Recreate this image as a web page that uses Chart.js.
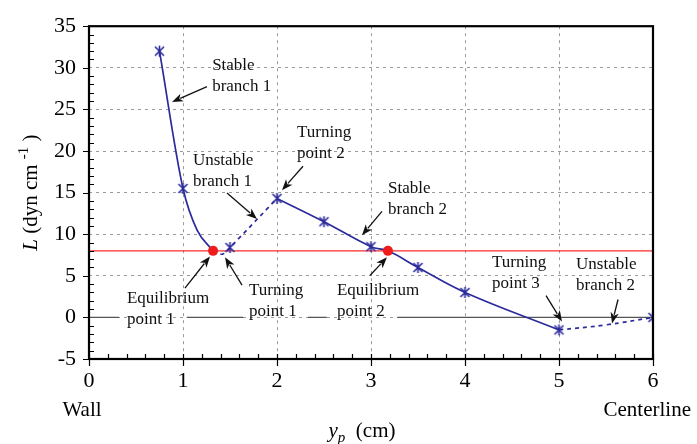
<!DOCTYPE html>
<html><head><meta charset="utf-8">
<script src="https://cdn.jsdelivr.net/npm/chart.js@4/dist/chart.umd.min.js"></script>
<style>html,body{margin:0;padding:0;background:#fff}#wrap{width:697px;height:444px;position:relative}</style>
</head><body><div id="wrap"><canvas id="c"></canvas></div>
<script>
// ---- data ----
const xTickValues = [0, 1, 2, 3, 4, 5, 6];
const yTickValues = [-5, 0, 5, 10, 15, 20, 25, 30, 35];
const markerX = [0.75, 1.0, 1.5, 2.0, 2.5, 3.0, 3.5, 4.0, 5.0, 6.0];
const markerY = [32.0, 15.5, 8.4, 14.3, 11.5, 8.5, 6.0, 3.0, -1.5, 0.0];
const stable1X = [0.75, 1.0, 1.15, 1.32];
const stable1Y = [32.0, 15.5, 10.5, 8.0];
const unstable1X = [1.32, 1.42, 1.5, 2.0];
const unstable1Y = [8.0, 7.6, 8.4, 14.3];
const stable2X = [2.0, 2.5, 3.0, 3.18, 3.5, 4.0, 5.0];
const stable2Y = [14.3, 11.5, 8.5, 8.0, 6.0, 3.0, -1.5];
const unstable2X = [5.0, 5.5, 6.0];
const unstable2Y = [-1.5, -0.9, 0.0];
const equilibriumX = [1.32, 3.18];
const equilibriumY = [8.0, 8.0];
const referenceLevel = 8;
const zeroLineX = [0, 0.32, null, 1.04, 1.64, null, 2.33, 2.53, null, 3.28, 6];
const xSideLabels = ['Wall', 'Centerline'];
const annotationLines = [
  ['Stable', 'branch 1'], ['Unstable', 'branch 1'], ['Turning', 'point 2'],
  ['Stable', 'branch 2'], ['Equilibrium', 'point 1'], ['Turning', 'point 1'],
  ['Equilibrium', 'point 2'], ['Turning', 'point 3'], ['Unstable', 'branch 2']
];
// text anchor (left x, first-line centre y) and arrow tail -> head, in data units
const annotationAnchor = [
  [1.31, 30.27], [1.106, 18.86], [2.213, 22.2], [3.181, 15.52], [0.404, 2.26],
  [1.702, 3.18], [2.638, 3.18], [4.287, 6.64], [5.181, 6.41]
];
const annotationArrow = [
  [1.255, 27.74, 0.883, 25.9], [1.468, 14.94, 1.787, 11.83], [2.277, 18.17, 2.053, 15.29],
  [3.117, 12.75, 2.904, 9.87], [1.021, 3.53, 1.287, 7.33], [1.628, 3.88, 1.447, 7.22],
  [2.989, 5.03, 3.17, 7.22], [4.862, 2.61, 5.032, -0.5], [5.628, 2.15, 5.564, -0.73]
];

const pts = (xs, ys) => xs.map((x, i) => ({x: x, y: ys[i]}));
const BLUE = '#2b2b9c';
const SERIF = '"Liberation Serif", "DejaVu Serif", serif';

// asterisk marker
const star = document.createElement('canvas');
star.width = 13; star.height = 13;
(function(){
  const g = star.getContext('2d');
  g.strokeStyle = BLUE; g.lineWidth = 1.6; g.lineCap = 'butt';
  g.beginPath();
  g.moveTo(2, 2); g.lineTo(11, 11);
  g.moveTo(11, 2); g.lineTo(2, 11);
  g.moveTo(6.5, 1); g.lineTo(6.5, 12);
  g.stroke();
})();

const zeroData = zeroLineX.map(x => x === null ? {x: NaN, y: null} : {x: x, y: 0});

const decor = {
  id: 'decor',
  afterDraw(chart) {
    const ctx = chart.ctx, a = chart.chartArea;
    const xs = chart.scales.x, ys = chart.scales.y;
    ctx.save();
    ctx.strokeStyle = '#000'; ctx.lineWidth = 1.2;
    ctx.beginPath();
    // y ticks
    for (let v = ys.min; v <= ys.max; v += 1) {
      const py = Math.round(ys.getPixelForValue(v)) + 0.5;
      if (v % 5 === 0) { ctx.moveTo(a.left - 6, py); ctx.lineTo(a.left, py); }
      else { ctx.moveTo(a.left, py); ctx.lineTo(a.left + 5, py); }
    }
    // x ticks
    for (let k = 0; k <= 30; k++) {
      const v = k / 5;
      const px = Math.round(xs.getPixelForValue(v)) + 0.5;
      if (k % 5 === 0) { ctx.moveTo(px, a.bottom - 5); ctx.lineTo(px, a.bottom + 7); }
      else { ctx.moveTo(px, a.bottom - 5); ctx.lineTo(px, a.bottom); }
    }
    ctx.stroke();
    // frame
    ctx.lineWidth = 2.2;
    ctx.strokeRect(a.left, a.top, a.right - a.left, a.bottom - a.top);

    // annotations
    ctx.fillStyle = '#111';
    ctx.font = '17px ' + SERIF;
    ctx.textAlign = 'left'; ctx.textBaseline = 'middle';
    annotationLines.forEach((lines, i) => {
      const px = xs.getPixelForValue(annotationAnchor[i][0]);
      const py = ys.getPixelForValue(annotationAnchor[i][1]);
      lines.forEach((t, j) => ctx.fillText(t, px, py + j * 21));
      const [x1, y1, x2, y2] = annotationArrow[i];
      const ax = xs.getPixelForValue(x1), ay = ys.getPixelForValue(y1);
      const bx = xs.getPixelForValue(x2), by = ys.getPixelForValue(y2);
      const ang = Math.atan2(by - ay, bx - ax);
      const L = 11, W = 4.2;
      ctx.strokeStyle = '#111'; ctx.lineWidth = 1.3;
      ctx.beginPath(); ctx.moveTo(ax, ay);
      ctx.lineTo(bx - Math.cos(ang) * (L - 2), by - Math.sin(ang) * (L - 2)); ctx.stroke();
      ctx.beginPath();
      ctx.moveTo(bx, by);
      ctx.lineTo(bx - Math.cos(ang) * L - Math.sin(ang) * W, by - Math.sin(ang) * L + Math.cos(ang) * W);
      ctx.lineTo(bx - Math.cos(ang) * (L - 3), by - Math.sin(ang) * (L - 3));
      ctx.lineTo(bx - Math.cos(ang) * L + Math.sin(ang) * W, by - Math.sin(ang) * L - Math.cos(ang) * W);
      ctx.closePath(); ctx.fill();
    });

    // Wall / Centerline
    ctx.fillStyle = '#000';
    ctx.font = '21px ' + SERIF;
    ctx.textAlign = 'center';
    ctx.fillText(xSideLabels[0], xs.getPixelForValue(xs.min) - 7, 410);
    ctx.textAlign = 'right';
    ctx.fillText(xSideLabels[1], 691, 410);

    // x title: y_p (cm)
    const fI = 'italic 21px ' + SERIF, fS = 'italic 15px ' + SERIF, fR = '21px ' + SERIF;
    ctx.textAlign = 'left'; ctx.textBaseline = 'alphabetic';
    ctx.font = fI; const w1 = ctx.measureText('y').width;
    ctx.font = fS; const w2 = ctx.measureText('p').width;
    ctx.font = fR; const w3 = ctx.measureText('  (cm)').width;
    let sx = (a.left + a.right) / 2 - 9 - (w1 + w2 + w3) / 2;
    const base = 437;
    ctx.font = fI; ctx.fillText('y', sx, base); sx += w1;
    ctx.font = fS; ctx.fillText('p', sx, base + 5); sx += w2;
    ctx.font = fR; ctx.fillText('  (cm)', sx, base);

    // y title: L (dyn cm -1)
    ctx.save();
    ctx.translate(37, (a.top + a.bottom) / 2);
    ctx.rotate(-Math.PI / 2);
    const parts = [['L', fI, 0], [' (dyn cm ', fR, 0], ['-1', '15px ' + SERIF, -9], [' )', fR, 0]];
    let tw = 0;
    parts.forEach(p => { ctx.font = p[1]; p.push(ctx.measureText(p[0]).width); tw += p[3]; });
    let tx = -tw / 2;
    parts.forEach(p => { ctx.font = p[1]; ctx.fillText(p[0], tx, p[2]); tx += p[3]; });
    ctx.restore();
    ctx.restore();
  }
};

new Chart(document.getElementById('c'), {
  type: 'scatter',
  data: {
    datasets: [
      { label: 'Equilibrium', data: pts(equilibriumX, equilibriumY), order: 0,
        pointStyle: 'circle', pointRadius: 5, backgroundColor: '#ee1c1c', borderColor: '#ee1c1c', borderWidth: 0, showLine: false },
      { label: 'Points', data: pts(markerX, markerY), order: 1,
        pointStyle: star, showLine: false },
      { label: 'Stable 1', data: pts(stable1X, stable1Y), order: 2, showLine: true,
        borderColor: BLUE, borderWidth: 1.7, pointRadius: 0, cubicInterpolationMode: 'monotone' },
      { label: 'Unstable 1', data: pts(unstable1X, unstable1Y), order: 2, showLine: true,
        borderColor: BLUE, borderWidth: 1.7, borderDash: [4, 4], pointRadius: 0, tension: 0.3 },
      { label: 'Stable 2', data: pts(stable2X, stable2Y), order: 2, showLine: true,
        borderColor: BLUE, borderWidth: 1.7, pointRadius: 0, tension: 0.4 },
      { label: 'Unstable 2', data: pts(unstable2X, unstable2Y), order: 2, showLine: true,
        borderColor: BLUE, borderWidth: 1.7, borderDash: [4, 4], pointRadius: 0, tension: 0.4 },
      { label: 'Reference', data: [{x: xTickValues[0], y: referenceLevel}, {x: xTickValues[xTickValues.length - 1], y: referenceLevel}],
        order: 3, showLine: true, borderColor: '#ff2a2a', borderWidth: 1.3, pointRadius: 0 },
      { label: 'Zero', data: zeroData, order: 4, showLine: true, spanGaps: false,
        borderColor: '#555', borderWidth: 1.3, pointRadius: 0 }
    ]
  },
  options: {
    responsive: true, maintainAspectRatio: false, animation: false,
    layout: { padding: { left: 0, right: 44, top: 12, bottom: 0 } },
    plugins: { legend: { display: false }, tooltip: { enabled: false } },
    scales: {
      x: {
        type: 'linear', min: 0, max: 6,
        afterFit: s => { s.height = 85; },
        afterBuildTicks: s => { s.ticks = xTickValues.map(v => ({value: v})); },
        ticks: { font: { family: SERIF, size: 22 }, color: '#000', padding: 9, autoSkip: false, maxRotation: 0 },
        grid: { color: '#9a9a9a', lineWidth: 1, drawTicks: false },
        border: { display: false, dash: [3, 4] }
      },
      y: {
        type: 'linear', min: -5, max: 35,
        afterFit: s => { s.width = 89; },
        afterBuildTicks: s => { s.ticks = yTickValues.map(v => ({value: v})); },
        ticks: { font: { family: SERIF, size: 22 }, color: '#000', padding: 13 },
        grid: { color: '#9a9a9a', lineWidth: 1, drawTicks: false },
        border: { display: false, dash: [3, 4] }
      }
    }
  },
  plugins: [decor]
});
</script>
</body></html>
